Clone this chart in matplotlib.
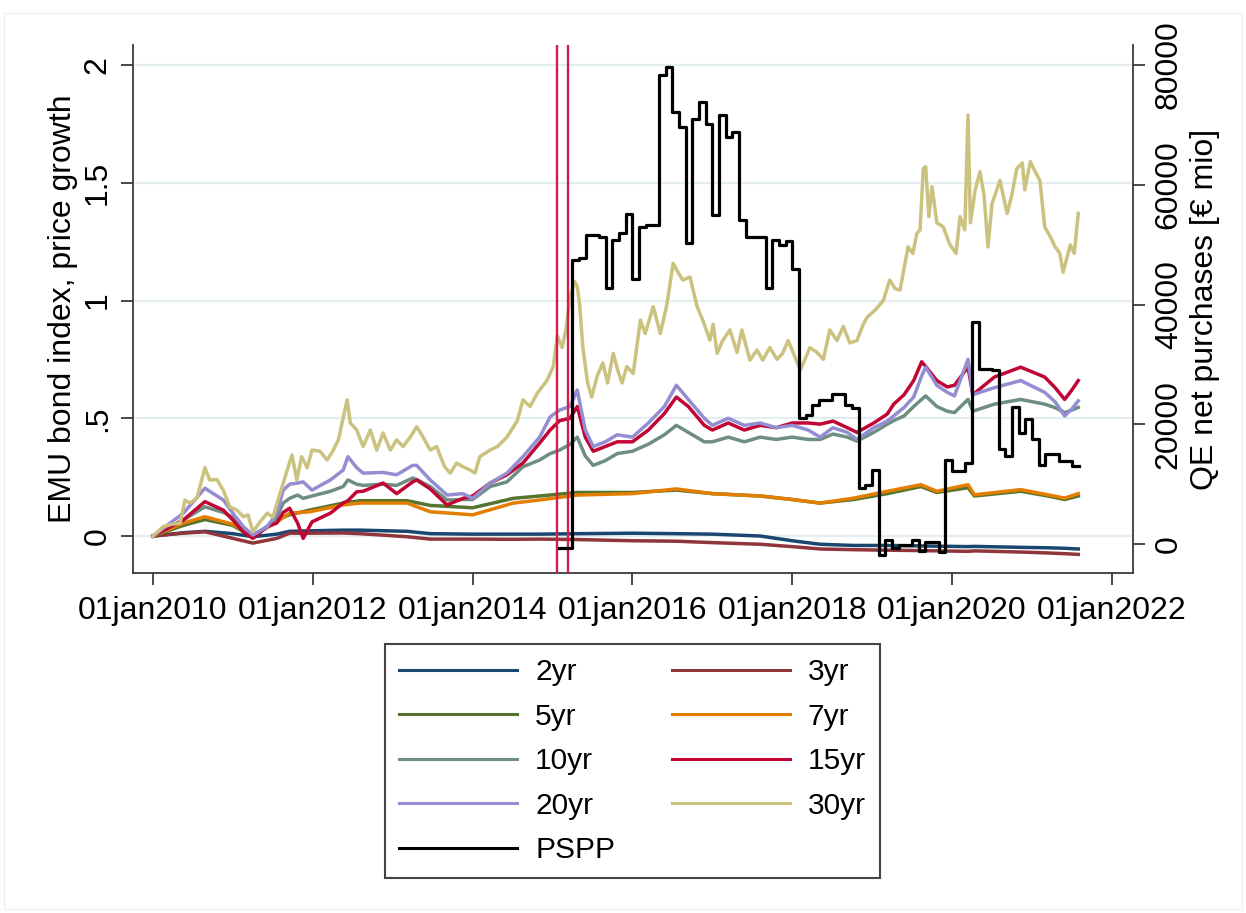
import matplotlib
matplotlib.use('Agg')
import matplotlib.pyplot as plt
from matplotlib.lines import Line2D
from matplotlib.patches import Rectangle

plt.rcParams['font.family'] = ['Liberation Sans', 'DejaVu Sans']

# ---------------- data (decimal years) ----------------
t_long = [2010.00, 2010.38, 2010.65, 2010.88, 2011.00, 2011.13, 2011.25, 2011.43, 2011.55, 2011.63,
          2011.71, 2011.81, 2011.88, 2011.99, 2012.22, 2012.38, 2012.44, 2012.55, 2012.63, 2012.88,
          2013.05, 2013.25, 2013.30, 2013.47, 2013.68, 2013.88, 2014.00, 2014.22, 2014.43, 2014.63,
          2014.84, 2014.97, 2015.09, 2015.22, 2015.31, 2015.41, 2015.51, 2015.66, 2015.81, 2016.00,
          2016.20, 2016.40, 2016.55, 2016.70, 2016.90, 2017.00, 2017.20, 2017.40, 2017.60, 2017.80,
          2018.00, 2018.20, 2018.35, 2018.51, 2018.69, 2018.81, 2019.02, 2019.19, 2019.27, 2019.40,
          2019.52, 2019.62, 2019.67, 2019.81, 2019.94, 2020.03, 2020.20, 2020.26, 2020.53, 2020.86,
          2021.16, 2021.29, 2021.41, 2021.50, 2021.58]

y10 = [0, 0.068, 0.124, 0.10, 0.08, 0.03, 0.003, 0.04, 0.08, 0.14,
       0.16, 0.174, 0.16, 0.17, 0.19, 0.21, 0.238, 0.22, 0.215, 0.22,
       0.215, 0.246, 0.24, 0.21, 0.153, 0.155, 0.155, 0.21, 0.23, 0.294,
       0.323, 0.35, 0.365, 0.39, 0.42, 0.34, 0.30, 0.32, 0.35, 0.36,
       0.39, 0.43, 0.47, 0.44, 0.40, 0.40, 0.42, 0.40, 0.42, 0.41,
       0.42, 0.41, 0.41, 0.433, 0.42, 0.403, 0.44, 0.475, 0.49, 0.51,
       0.55, 0.58, 0.595, 0.55, 0.53, 0.524, 0.58, 0.53, 0.56, 0.58,
       0.56, 0.545, 0.524, 0.535, 0.546]

y15 = [0, 0.068, 0.146, 0.11, 0.068, 0.018, -0.01, 0.04, 0.055, 0.10,
       0.118, 0.055, -0.01, 0.06, 0.097, 0.14, 0.15, 0.188, 0.19, 0.225,
       0.18, 0.23, 0.238, 0.20, 0.132, 0.16, 0.17, 0.225, 0.26, 0.31,
       0.395, 0.45, 0.49, 0.50, 0.55, 0.42, 0.36, 0.38, 0.40, 0.40,
       0.45, 0.52, 0.59, 0.55, 0.47, 0.45, 0.48, 0.45, 0.47, 0.46,
       0.48, 0.48, 0.475, 0.488, 0.46, 0.44, 0.48, 0.518, 0.56, 0.60,
       0.66, 0.74, 0.72, 0.66, 0.633, 0.64, 0.717, 0.60, 0.675, 0.717,
       0.675, 0.63, 0.58, 0.62, 0.66]

y20 = [0, 0.097, 0.203, 0.153, 0.097, 0.04, 0.004, 0.04, 0.097, 0.195,
       0.22, 0.225, 0.23, 0.195, 0.238, 0.28, 0.337, 0.29, 0.267, 0.27,
       0.26, 0.30, 0.30, 0.238, 0.174, 0.18, 0.16, 0.225, 0.267, 0.337,
       0.42, 0.506, 0.535, 0.55, 0.62, 0.45, 0.38, 0.40, 0.43, 0.42,
       0.48, 0.55, 0.64, 0.58, 0.50, 0.47, 0.50, 0.47, 0.48, 0.46,
       0.47, 0.45, 0.42, 0.46, 0.44, 0.41, 0.46, 0.488, 0.51, 0.546,
       0.59, 0.68, 0.717, 0.64, 0.61, 0.595, 0.75, 0.60, 0.63, 0.66,
       0.61, 0.57, 0.51, 0.54, 0.574]

t_short = [2010.00, 2010.38, 2010.65, 2011.00, 2011.25, 2011.55, 2011.71, 2011.96, 2012.38, 2012.59,
           2013.18, 2013.47, 2014.00, 2014.51, 2014.84, 2015.31, 2016.00, 2016.55, 2017.00, 2017.60,
           2018.00, 2018.35, 2018.77, 2019.19, 2019.61, 2019.81, 2020.20, 2020.28, 2020.86, 2021.20,
           2021.41, 2021.58]

y2 = [0, 0.014, 0.02, 0.01, -0.003, 0.008, 0.02, 0.022, 0.025, 0.025,
      0.02, 0.01, 0.008, 0.008, 0.008, 0.01, 0.012, 0.01, 0.008, 0.0,
      -0.02, -0.035, -0.04, -0.04, -0.042, -0.043, -0.045, -0.044, -0.048, -0.05,
      -0.052, -0.055]

y3 = [0, 0.012, 0.018, -0.01, -0.03, -0.01, 0.012, 0.012, 0.013, 0.01,
      -0.003, -0.013, -0.013, -0.014, -0.013, -0.015, -0.02, -0.022, -0.028, -0.035,
      -0.045, -0.055, -0.058, -0.06, -0.062, -0.063, -0.065, -0.063, -0.068, -0.072,
      -0.075, -0.078]

y5 = [0, 0.045, 0.07, 0.045, -0.005, 0.07, 0.09, 0.11, 0.14, 0.15,
      0.15, 0.13, 0.12, 0.16, 0.17, 0.185, 0.185, 0.195, 0.18, 0.17,
      0.155, 0.14, 0.155, 0.18, 0.21, 0.185, 0.205, 0.17, 0.19, 0.17,
      0.155, 0.17]

y7 = [0, 0.055, 0.082, 0.05, 0.0, 0.06, 0.097, 0.103, 0.132, 0.14,
      0.14, 0.103, 0.09, 0.14, 0.153, 0.174, 0.18, 0.20, 0.18, 0.17,
      0.155, 0.14, 0.161, 0.19, 0.218, 0.19, 0.218, 0.175, 0.197, 0.175,
      0.161, 0.18]

t30 = [2010.00, 2010.13, 2010.24, 2010.34, 2010.40, 2010.46, 2010.55, 2010.65, 2010.71, 2010.80,
       2010.88, 2010.96, 2011.05, 2011.13, 2011.19, 2011.25, 2011.34, 2011.43, 2011.50, 2011.59,
       2011.68, 2011.74, 2011.80, 2011.86, 2011.93, 2011.99, 2012.09, 2012.18, 2012.25, 2012.32,
       2012.43, 2012.47, 2012.55, 2012.63, 2012.72, 2012.80, 2012.88, 2012.97, 2013.05, 2013.13,
       2013.22, 2013.30, 2013.38, 2013.47, 2013.55, 2013.65, 2013.72, 2013.80, 2013.88, 2013.97,
       2014.03, 2014.09, 2014.22, 2014.31, 2014.43, 2014.56, 2014.63, 2014.72, 2014.81, 2014.93,
       2015.01, 2015.06, 2015.12, 2015.17, 2015.22, 2015.28, 2015.31, 2015.34, 2015.38, 2015.44,
       2015.49, 2015.56, 2015.63, 2015.69, 2015.76, 2015.82, 2015.87, 2015.93, 2016.01, 2016.10,
       2016.16, 2016.26, 2016.35, 2016.43, 2016.51, 2016.57, 2016.63, 2016.72, 2016.81, 2016.88,
       2016.97, 2017.01, 2017.06, 2017.13, 2017.22, 2017.31, 2017.37, 2017.47, 2017.56, 2017.63,
       2017.72, 2017.81, 2017.88, 2017.95, 2018.01, 2018.10, 2018.16, 2018.22, 2018.31, 2018.39,
       2018.47, 2018.56, 2018.64, 2018.72, 2018.81, 2018.89, 2018.94, 2019.04, 2019.14, 2019.22,
       2019.29, 2019.35, 2019.45, 2019.51, 2019.56, 2019.60, 2019.64, 2019.67, 2019.71, 2019.75,
       2019.81, 2019.89, 2019.97, 2020.05, 2020.10, 2020.16, 2020.20, 2020.23, 2020.29, 2020.35,
       2020.40, 2020.45, 2020.50, 2020.60, 2020.69, 2020.75, 2020.81, 2020.88, 2020.91, 2020.98,
       2021.04, 2021.10, 2021.16, 2021.23, 2021.29, 2021.35, 2021.39, 2021.48, 2021.53, 2021.58]

y30 = [0, 0.04, 0.05, 0.055, 0.153, 0.14, 0.16, 0.29, 0.238, 0.24,
       0.195, 0.124, 0.11, 0.082, 0.09, 0.018, 0.06, 0.097, 0.08, 0.18,
       0.28, 0.344, 0.238, 0.337, 0.29, 0.365, 0.36, 0.323, 0.36, 0.408,
       0.578, 0.48, 0.45, 0.38, 0.45, 0.365, 0.437, 0.365, 0.408, 0.38,
       0.42, 0.464, 0.42, 0.365, 0.38, 0.294, 0.267, 0.31, 0.294, 0.28,
       0.267, 0.337, 0.365, 0.38, 0.42, 0.49, 0.578, 0.55, 0.607, 0.66,
       0.72, 0.85, 0.80, 0.88, 1.016, 1.08, 1.06, 0.98, 0.80, 0.65,
       0.59, 0.68, 0.735, 0.65, 0.776, 0.70, 0.65, 0.72, 0.69, 0.917,
       0.86, 0.974, 0.86, 0.98, 1.158, 1.12, 1.087, 1.10, 0.974, 0.917,
       0.832, 0.90, 0.776, 0.83, 0.875, 0.78, 0.875, 0.747, 0.79, 0.747,
       0.80, 0.75, 0.776, 0.83, 0.78, 0.705, 0.75, 0.80, 0.78, 0.75,
       0.875, 0.83, 0.89, 0.82, 0.83, 0.90, 0.93, 0.96, 1.00, 1.087,
       1.05, 1.045, 1.228, 1.20, 1.285, 1.30, 1.56, 1.568, 1.356, 1.483,
       1.33, 1.313, 1.24, 1.20, 1.356, 1.30, 1.788, 1.33, 1.47, 1.547,
       1.45, 1.228, 1.41, 1.51, 1.37, 1.45, 1.56, 1.584, 1.47, 1.59,
       1.547, 1.51, 1.313, 1.271, 1.228, 1.20, 1.12, 1.236, 1.20, 1.37]

# PSPP monthly net purchases (EUR mio), Feb 2015 .. Aug 2021
pspp_first_month = 2015 + 1 / 12
pspp = [-700, -700, 47400, 47800, 51600, 51600, 51200, 42750, 50800, 52000, 55100,
        44250, 52950, 53200, 53200, 78300, 79700, 72200, 69650, 50300, 70950, 73800, 70150,
        54950, 71700, 68000, 68800, 54100, 51300, 51300, 51300, 42700, 50800, 49900, 50650,
        46000, 21000, 21500, 23200, 24000, 24000, 25000, 25000, 23200, 22700, 9350, 9850,
        12360, -1840, 670, -750, -170, -170, 670, -1170, 380, 380, -1300, 14100,
        12200, 12200, 13500, 37100, 29200, 29200, 29000, 15800, 14700, 22800, 18600, 20900,
        17500, 13250, 14950, 14950, 13900, 13900, 13000, 13000]
t_pspp = [pspp_first_month + i / 12 for i in range(len(pspp))]

# QE announcement (22 Jan 2015) and PSPP start (9 Mar 2015)
qe_events = [2015.06, 2015.19]

xtick_years = [2010, 2012, 2014, 2016, 2018, 2020, 2022]
xtick_labels = ['01jan%d' % y for y in xtick_years]
ytick_left = [0, 0.5, 1, 1.5, 2]
ytick_left_labels = ['0', '.5', '1', '1.5', '2']
ytick_right = [0, 20000, 40000, 60000, 80000]

series = [
    ('2yr', t_short, y2, '#1a476f'),
    ('3yr', t_short, y3, '#90353b'),
    ('5yr', t_short, y5, '#55752f'),
    ('7yr', t_short, y7, '#e37e00'),
    ('10yr', t_long, y10, '#6e8e84'),
    ('15yr', t_long, y15, '#c10534'),
    ('20yr', t_long, y20, '#938dd2'),
    ('30yr', t30, y30, '#cac27e'),
]

# ---------------- figure ----------------
W, H = 1246, 913
fig = plt.figure(figsize=(W / 100, H / 100), dpi=100)
fig.patch.set_facecolor('white')
fig.patches.append(Rectangle((4 / W, 4 / H), 1 - 8 / W, 1 - 17 / H, transform=fig.transFigure,
                             fill=False, edgecolor='#f0f0f0', lw=1.0))

ax = fig.add_axes([133 / W, 1 - 573 / H, 1000 / W, 528 / H])
ax.set_xlim(2009.75, 2022.265)
ax.set_ylim(-0.157, 2.085)

ax.set_axisbelow(True)
ax.yaxis.grid(True, color='#e4edf0', lw=1.6)
ax.xaxis.grid(False)

handles = {}
for name, t, y, c in series:
    ax.plot(t, y, color=c, lw=2.5, solid_joinstyle='round')
    handles[name] = Line2D([], [], color=c, lw=2.2)

ax2 = ax.twinx()
ax2.set_ylim(-4843, 83340)
for q in qe_events:
    ax2.axvline(q, color='#cf1f4c', lw=1.7)
ax2.step(t_pspp, pspp, where='post', color='black', lw=2.3)
handles['PSPP'] = Line2D([], [], color='black', lw=2.2)

axis_col = '#3a3a3a'
for a in (ax, ax2):
    a.spines['top'].set_visible(False)
    for s in a.spines.values():
        s.set_color(axis_col)
        s.set_linewidth(1.3)
ax.spines['right'].set_visible(False)
ax2.spines['left'].set_visible(False)
ax2.spines['bottom'].set_visible(False)

TICK_FS = 23
TICK_LEN = 8.5
ax.set_xticks(xtick_years)
ax.set_xticklabels(xtick_labels)
ax.tick_params(axis='x', length=TICK_LEN, width=1.3, color=axis_col, labelsize=TICK_FS, pad=8)

ax.set_yticks(ytick_left)
ax.set_yticklabels(ytick_left_labels)
ax.tick_params(axis='y', length=TICK_LEN, width=1.3, color=axis_col, labelsize=TICK_FS, pad=6)
for lab in ax.get_yticklabels():
    lab.set_rotation(90)
    lab.set_va('center')
    lab.set_ha('right')

ax2.set_yticks(ytick_right)
ax2.set_yticklabels([str(v) for v in ytick_right])
ax2.tick_params(axis='y', length=TICK_LEN, width=1.3, color=axis_col, labelsize=TICK_FS, pad=6.5)
for lab in ax2.get_yticklabels():
    lab.set_rotation(90)
    lab.set_va('center')
    lab.set_ha('left')

ax.set_ylabel('EMU bond index, price growth', fontsize=23, va='center')
ax.yaxis.set_label_coords(-0.070, 0.5)
ax2.set_ylabel('QE net purchases [€ mio]', fontsize=23, va='center')
ax2.yaxis.set_label_coords(1.072, 0.5)

order = ['2yr', '5yr', '10yr', '20yr', 'PSPP', '3yr', '7yr', '15yr', '30yr']
leg = fig.legend([handles[k] for k in order], order, ncol=2, loc='upper left',
                 bbox_to_anchor=(385 / W, 1 - 644 / H), borderaxespad=0, fontsize=21.5,
                 handlelength=3.95, handletextpad=0.6, columnspacing=1.9,
                 labelspacing=0.55, borderpad=0.48, fancybox=False,
                 edgecolor='#444444', framealpha=1)
leg.get_frame().set_linewidth(1.5)

fig.savefig('out.png', dpi=100, facecolor='white')
